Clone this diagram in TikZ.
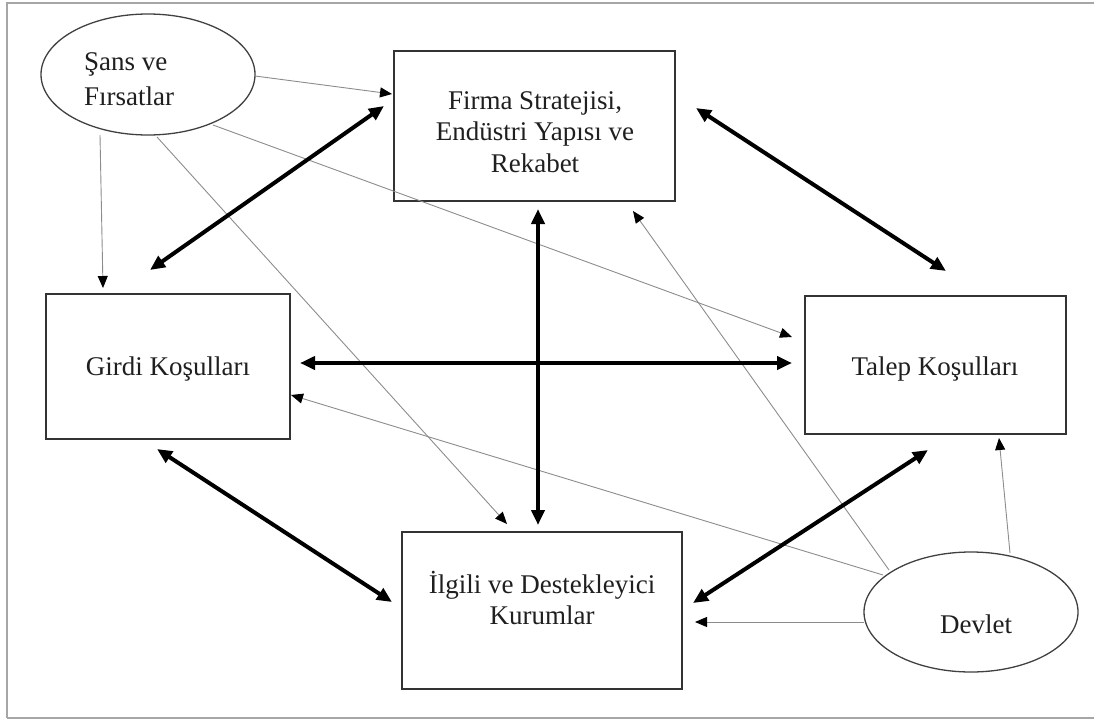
\documentclass[tikz,border=0pt]{standalone}
\usepackage{fontspec}
\setmainfont{Liberation Serif}
\usetikzlibrary{arrows.meta,shapes.geometric}
\tikzset{
  box/.style={draw=black!80, line width=1.8pt, rectangle, inner sep=0pt},
  oval/.style={draw=black!75, line width=1.3pt, ellipse, inner sep=0pt},
  lbl/.style={font=\fontsize{27}{31.5}\selectfont, align=center, inner sep=0pt, text=black!88},
  thick2/.style={line width=4pt, black, {Triangle[length=15pt,width=13pt]}-{Triangle[length=15pt,width=13pt]}},
  thin1/.style={line width=0.9pt, black!45, -{Triangle[length=12pt,width=10pt,fill=black,color=black]}},
  outerframe/.style={line width=1.2pt, black!35}
}
\begin{document}
\begin{tikzpicture}[x=1pt,y=-1pt]
\useasboundingbox (0,0) rectangle (1094,720);
% frame
\draw[outerframe] (7,718) -- (7,3) -- (1094,3);
\draw[outerframe] (7,718) -- (1094,718);
% shapes
\node[oval, minimum width=214pt, minimum height=121pt] (sans) at (148,74.5) {};
\node[oval, minimum width=214pt, minimum height=120pt] (devlet) at (971,612) {};
\node[box, minimum width=281pt, minimum height=150pt] (firma) at (534.5,126) {};
\node[box, minimum width=244pt, minimum height=145pt] (girdi) at (168,366.5) {};
\node[box, minimum width=261pt, minimum height=138pt] (talep) at (935.5,365) {};
\node[box, minimum width=280pt, minimum height=157pt] (ilgili) at (542,610.5) {};
% texts
\node[lbl, font=\fontsize{27}{35}\selectfont, align=left, anchor=west] (sansT) at (84,79) {Şans ve\\Fırsatlar};
\node[lbl] (firmaT) at (535,132) {Firma Stratejisi,\\Endüstri Yapısı ve\\Rekabet};
\node[lbl] (girdiT) at (168,369) {Girdi Koşulları};
\node[lbl] (talepT) at (935,369) {Talep Koşulları};
\node[lbl] (ilgiliT) at (542,598) {İlgili ve Destekleyici\\Kurumlar};
\node[lbl] (devletT) at (976,624) {Devlet};
% connector end points
\coordinate (t1a) at (150,270); \coordinate (t1b) at (384,106);
\coordinate (t2a) at (696,108); \coordinate (t2b) at (946,271);
\coordinate (t3a) at (300,363); \coordinate (t3b) at (792,363);
\coordinate (t4a) at (538,209); \coordinate (t4b) at (538,525);
\coordinate (t5a) at (157,449); \coordinate (t5b) at (392,602);
\coordinate (t6a) at (693,603); \coordinate (t6b) at (928,450);
\coordinate (aS) at (255,76);  \coordinate (aE) at (392,94);
\coordinate (bS) at (100,135); \coordinate (bE) at (103,288);
\coordinate (cS) at (213,125); \coordinate (cE) at (792,337);
\coordinate (dS) at (157,137); \coordinate (dE) at (507,524);
\coordinate (eS) at (889,570); \coordinate (eE) at (633,211);
\coordinate (fS) at (883,575); \coordinate (fE) at (291,395);
\coordinate (gS) at (864,622); \coordinate (gE) at (695,622);
\coordinate (hS) at (1010,553); \coordinate (hE) at (999,438);
% thin arrows
\draw[thin1] (aS) -- (aE);
\draw[thin1] (bS) -- (bE);
\draw[thin1] (cS) -- (cE);
\draw[thin1] (dS) -- (dE);
\draw[thin1] (eS) -- (eE);
\draw[thin1] (fS) -- (fE);
\draw[thin1] (gS) -- (gE);
\draw[thin1] (hS) -- (hE);
% thick arrows
\draw[thick2] (t1a) -- (t1b);
\draw[thick2] (t2a) -- (t2b);
\draw[thick2] (t3a) -- (t3b);
\draw[thick2] (t4a) -- (t4b);
\draw[thick2] (t5a) -- (t5b);
\draw[thick2] (t6a) -- (t6b);
\end{tikzpicture}
\end{document}
